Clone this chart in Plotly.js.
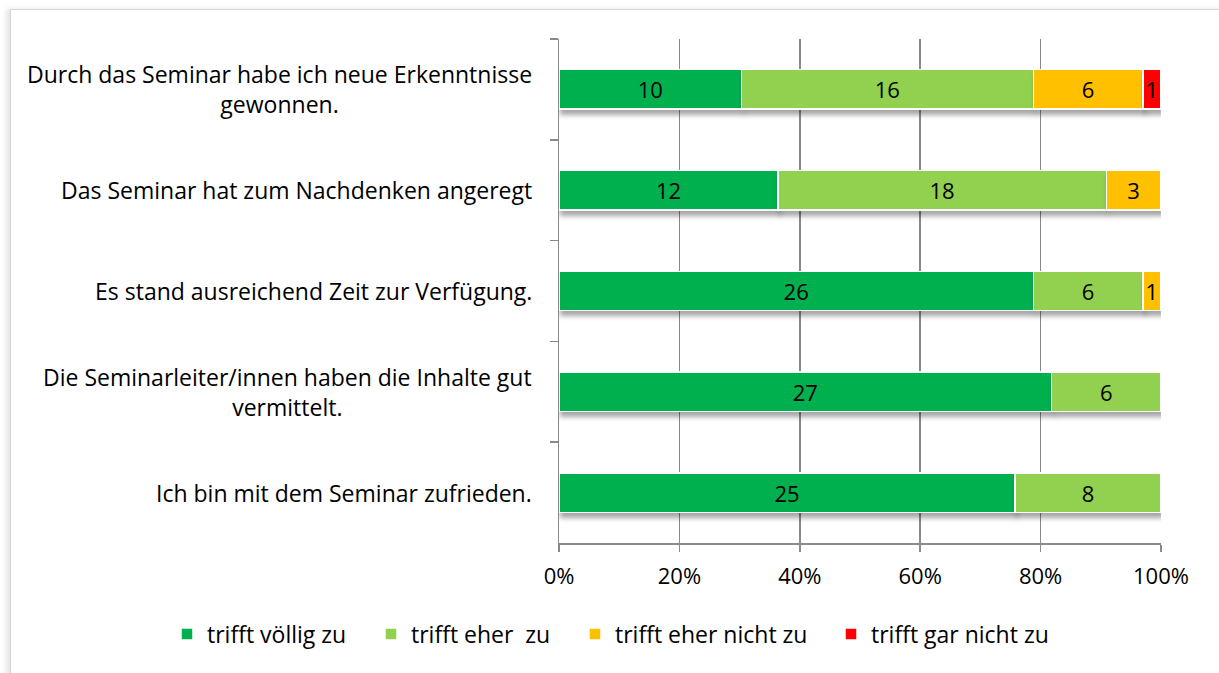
<!DOCTYPE html>
<html>
<head>
<meta charset="utf-8">
<script src="https://cdn.plot.ly/plotly-3.0.1.min.js"></script>
<style>
  html, body { margin: 0; padding: 0; background: #fff; overflow: hidden; }
  #frame {
    position: absolute; left: 10px; top: 9px; width: 1300px; height: 760px;
    border: 1px solid #d6d6d6; box-shadow: -4px 0 5px rgba(0,0,0,0.10); background: #fff;
  }
  #chart { position: absolute; left: 0; top: 0; width: 1219px; height: 673px; }
</style>
</head>
<body>
<div id="frame"></div>
<div id="chart"></div>
<script>
  const categories = [
    "Durch das Seminar habe ich neue Erkenntnisse<br>gewonnen.",
    "Das Seminar hat zum Nachdenken angeregt",
    "Es stand ausreichend Zeit zur Verfügung.",
    "Die Seminarleiter/innen haben die Inhalte gut<br>vermittelt.",
    "Ich bin mit dem Seminar zufrieden."
  ];
  const seriesNames = ["trifft völlig zu", "trifft eher\u00a0 zu", "trifft eher nicht zu", "trifft gar nicht zu"];
  const seriesColors = ["#00B050", "#92D050", "#FFC000", "#FF0000"];
  const trifftVoellig = [10, 12, 26, 27, 25];
  const trifftEher = [16, 18, 6, 6, 8];
  const trifftEherNicht = [6, 3, 1, 0, 0];
  const trifftGarNicht = [1, 0, 0, 0, 0];
  const xTicks = [0, 20, 40, 60, 80, 100];

  // left edge of each legend entry's text in the original, px
  const legendTextLeft = [209, 413, 617, 873];

  const font = "Open Sans, Liberation Sans, sans-serif";
  const grey = "#898989";
  const values = [trifftVoellig, trifftEher, trifftEherNicht, trifftGarNicht];
  const legendIds = ["legend", "legend2", "legend3", "legend4"];

  const traces = values.map((vals, i) => ({
    type: "bar",
    orientation: "h",
    name: seriesNames[i],
    legend: legendIds[i],
    y: categories,
    x: vals,
    text: vals.map((v) => (v ? String(v) : "")),
    textposition: "inside",
    insidetextanchor: "middle",
    constraintext: "none",
    textangle: 0,
    textfont: { family: font, size: 22, color: "#000" },
    marker: { color: seriesColors[i], line: { color: "#fff", width: 1.5 } },
    hoverinfo: "skip"
  }));

  const annotations = categories.map((c) => ({
    xref: "paper", yref: "y", x: 0, y: c, xanchor: "right", yanchor: "middle",
    xshift: -25, text: c, align: "center", showarrow: false,
    font: { family: font, size: 23, color: "#000" }
  }));

  const layout = {
    width: 1219, height: 673,
    margin: { l: 559, r: 58, t: 39, b: 130 },
    paper_bgcolor: "rgba(0,0,0,0)", plot_bgcolor: "rgba(0,0,0,0)",
    barmode: "stack", barnorm: "percent", bargap: 0.61,
    font: { family: font, size: 22, color: "#000" },
    xaxis: {
      range: [0, 100], tickvals: xTicks, ticktext: xTicks.map((t) => t + "%"),
      showgrid: true, gridcolor: grey, gridwidth: 1.5,
      showline: true, linecolor: grey, linewidth: 1.5,
      ticks: "outside", ticklen: 7, tickcolor: grey, tickwidth: 1.5,
      ticklabelstandoff: 6,
      zeroline: false, tickfont: { family: font, size: 22, color: "#000" }
    },
    yaxis: {
      type: "category", autorange: "reversed", tickson: "boundaries",
      showticklabels: false, showgrid: false, zeroline: false,
      showline: true, linecolor: grey, linewidth: 1.5,
      ticks: "outside", ticklen: 8, tickcolor: grey, tickwidth: 1.5
    },
    showlegend: true,
    annotations
  };

  legendIds.forEach((id, i) => {
    layout[id] = {
      orientation: "h", xref: "container", yref: "container",
      x: (legendTextLeft[i] - 42) / 1219, xanchor: "left",
      y: 1 - 634 / 673, yanchor: "middle",
      bgcolor: "rgba(0,0,0,0)",
      font: { family: font, size: 23, color: "#000" }
    };
  });

  function addBarShadows(gd) {
    const svg = gd.querySelector("svg.main-svg");
    if (!svg) return;
    const ns = "http://www.w3.org/2000/svg";
    let defs = svg.querySelector("defs");
    if (!defs) {
      defs = document.createElementNS(ns, "defs");
      svg.insertBefore(defs, svg.firstChild);
    }
    const filter = document.createElementNS(ns, "filter");
    filter.setAttribute("id", "barShadow");
    filter.setAttribute("x", "-5%");
    filter.setAttribute("y", "-30%");
    filter.setAttribute("width", "115%");
    filter.setAttribute("height", "190%");
    const drop = document.createElementNS(ns, "feDropShadow");
    drop.setAttribute("dx", "2");
    drop.setAttribute("dy", "5");
    drop.setAttribute("stdDeviation", "2.5");
    drop.setAttribute("flood-color", "#000");
    drop.setAttribute("flood-opacity", "0.35");
    filter.appendChild(drop);
    defs.appendChild(filter);
    gd.querySelectorAll(".barlayer path").forEach((p) => {
      p.setAttribute("filter", "url(#barShadow)");
    });
  }

  const gd = document.getElementById("chart");
  Plotly.newPlot(gd, traces, layout, { displayModeBar: false, staticPlot: true }).then(() => addBarShadows(gd));
</script>
</body>
</html>
